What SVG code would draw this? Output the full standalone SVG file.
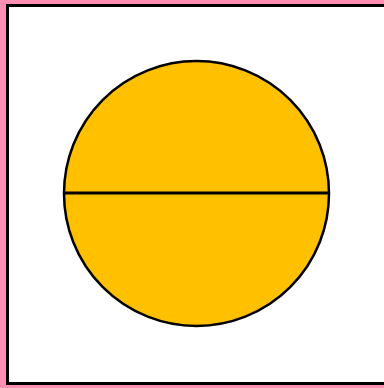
<svg xmlns="http://www.w3.org/2000/svg" width="384" height="388" viewBox="0 0 384 388">
<style>
.s{stroke:#000;stroke-width:3;fill:none}
</style>
<rect x="0" y="0" width="384" height="388" fill="#ff8fb3"/>
<rect x="7.5" y="5.5" width="390" height="378" fill="#fff" stroke="#000" stroke-width="3"/>
<g id="circle">
<circle cx="196.5" cy="193.5" r="132.5" fill="#ffc000" stroke="#000" stroke-width="2.5"/>
<line class="s" x1="64" y1="193" x2="329" y2="193"/>
</g>
</svg>
